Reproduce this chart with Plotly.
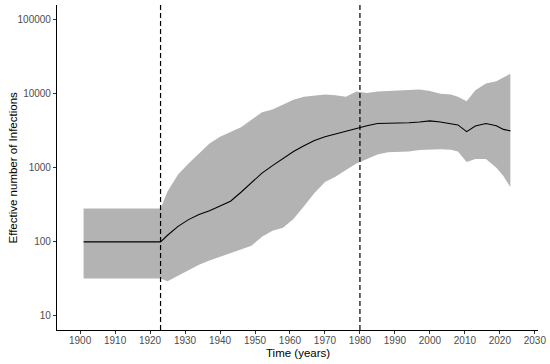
import plotly.graph_objects as go

years = [1901, 1923, 1925, 1928, 1931, 1934, 1937, 1940, 1943, 1946, 1949, 1952, 1955,
         1958, 1961, 1964, 1967, 1970, 1973, 1976, 1979, 1982, 1985, 1988, 1991, 1994,
         1997, 2000, 2003, 2006, 2008, 2010.5, 2013, 2016, 2019, 2021, 2023]
median = [100, 100, 123, 162, 200, 234, 263, 302, 355, 468, 631, 851, 1072,
          1349, 1660, 1995, 2344, 2630, 2884, 3090, 3388, 3715, 3981, 3981, 4027, 4074,
          4169, 4315, 4169, 3981, 3802, 3090, 3673, 3981, 3715, 3311, 3162]
upper = [282, 282, 479, 813, 1148, 1585, 2138, 2630, 3020, 3548, 4467, 5623, 6166,
         7244, 8318, 9120, 9550, 9772, 9550, 9120, 10715, 10233, 10715, 10965, 11220, 11350,
         11482, 10965, 10000, 9772, 9120, 7943, 11220, 13804, 14791, 16596, 18621]
lower = [32, 32, 29.5, 34.7, 40.7, 49, 56, 63, 72, 81, 89, 117, 141,
         155, 204, 302, 457, 646, 759, 933, 1148, 1318, 1514, 1622, 1622, 1660,
         1738, 1778, 1778, 1758, 1660, 1202, 1318, 1318, 1000, 776, 550]

vline_years = [1923, 1980]
x_ticks = list(range(1900, 2031, 10))
y_ticks = [10, 100, 1000, 10000, 100000]
y_ticklabels = ["10", "100", "1000", "10000", "100000"]

fig = go.Figure()
fig.add_trace(go.Scatter(x=years, y=lower, mode="lines", line=dict(width=0, color="#b3b3b3"),
                         showlegend=False, hoverinfo="skip"))
fig.add_trace(go.Scatter(x=years, y=upper, mode="lines", line=dict(width=0, color="#b3b3b3"),
                         fill="tonexty", fillcolor="#b3b3b3", showlegend=False, hoverinfo="skip"))
fig.add_trace(go.Scatter(x=years, y=median, mode="lines", line=dict(width=1.1, color="black"),
                         showlegend=False))

for vx in vline_years:
    fig.add_shape(type="line", x0=vx, x1=vx, xref="x", y0=0, y1=1, yref="paper",
                  line=dict(color="black", width=1.2, dash="5px,3px"))

tickfont = dict(family="Liberation Sans, Arial, sans-serif", size=10, color="#4d4d4d")
titlefont = dict(family="Liberation Sans, Arial, sans-serif", size=11.5, color="black")

fig.add_annotation(text="Time (years)", xref="paper", yref="paper", x=0.5, y=0,
                   yshift=-23, xanchor="center", yanchor="middle", showarrow=False,
                   font=titlefont, borderpad=0)
fig.add_annotation(text="Effective number of Infections", xref="paper", yref="paper",
                   x=0, y=0.5, xshift=-38, xanchor="right", yanchor="middle",
                   textangle=-90, showarrow=False, font=titlefont, borderpad=0)

fig.update_layout(
    width=550, height=364,
    margin=dict(l=57, r=12, t=5, b=34, autoexpand=False),
    paper_bgcolor="white", plot_bgcolor="white",
    xaxis=dict(range=[1893.4, 2030.9], tickvals=x_ticks, ticks="outside", ticklen=3,
               tickcolor="#333333", showline=True, linecolor="black", linewidth=1.1,
               showgrid=False, zeroline=False, tickfont=tickfont, automargin=False,
               ticklabelstandoff=-2),
    yaxis=dict(type="log", range=[0.81, 5.2], tickvals=y_ticks, ticktext=y_ticklabels,
               ticks="outside", ticklen=3, tickcolor="#333333", showline=True,
               linecolor="black", linewidth=1.1, showgrid=False, zeroline=False,
               tickfont=tickfont, automargin=False),
)

fig.write_html("out.html", config={"displayModeBar": False},
               post_script="document.body.style.margin='0';")
